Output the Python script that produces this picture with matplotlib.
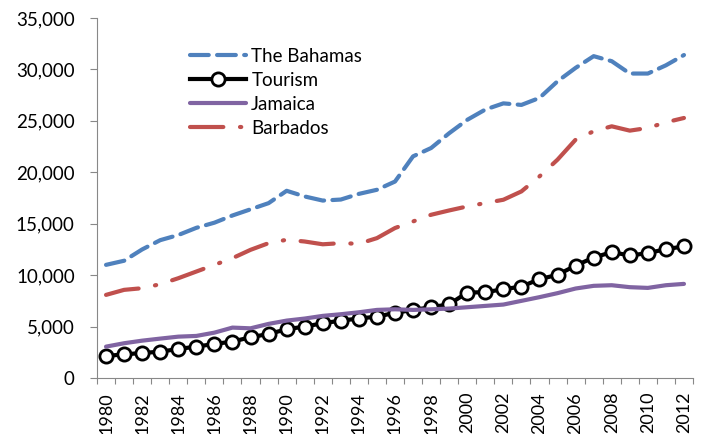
import numpy as np
import matplotlib
matplotlib.use("Agg")
from matplotlib import pyplot as plt

plt.rcParams['font.family'] = ['Lato', 'DejaVu Sans']

years = list(range(1980, 2013))

bahamas = [11000, 11400, 12500, 13400, 13900, 14600, 15100, 15800, 16400, 17000,
           18200, 17650, 17250, 17350, 17900, 18300, 19100, 21550, 22360, 23800,
           25100, 26100, 26700, 26550, 27230, 28850, 30150, 31290, 30800, 29600,
           29600, 30400, 31400]
tourism = [2140, 2300, 2430, 2560, 2820, 3050, 3310, 3540, 3960, 4280,
           4740, 5000, 5320, 5580, 5780, 5970, 6330, 6620, 6880, 7170,
           8310, 8340, 8630, 8890, 9610, 10030, 10930, 11710, 12240, 11910,
           12140, 12530, 12790]
jamaica = [3050, 3380, 3630, 3830, 4020, 4090, 4410, 4900, 4830, 5260,
           5580, 5780, 6040, 6200, 6390, 6620, 6680, 6620, 6680, 6750,
           6880, 7010, 7140, 7500, 7860, 8250, 8700, 8960, 9020, 8830,
           8760, 9020, 9150]
barbados = [8080, 8570, 8730, 9120, 9700, 10350, 11000, 11650, 12460, 13110,
            13440, 13270, 13000, 13110, 13050, 13600, 14580, 15220, 15870, 16290,
            16680, 17010, 17330, 18140, 19600, 21230, 23170, 23990, 24470, 24050,
            24310, 24860, 25280]

x = np.arange(len(years))

fig = plt.figure(figsize=(7.03, 4.34), dpi=100)
ax = fig.add_axes([97 / 703, 1 - 378 / 434, 596 / 703, 360 / 434])

ax.plot(x, bahamas, color='#4F81BD', lw=3, dashes=(4.5, 2), solid_capstyle='round',
        dash_capstyle='round', label='The Bahamas')
ax.plot(x, tourism, color='black', lw=3, marker='o', markersize=9.5,
        markerfacecolor='white', markeredgecolor='black', markeredgewidth=2,
        label='Tourism')
ax.plot(x, jamaica, color='#8064A2', lw=3, solid_capstyle='round', label='Jamaica')
ax.plot(x, barbados, color='#C0504D', lw=3, dashes=(8, 4, 0.3, 4), dash_capstyle='round',
        label='Barbados')

ax.set_xlim(-0.5, len(years) - 0.5)
ax.set_ylim(0, 35000)
ax.set_yticks(range(0, 35001, 5000))
ax.set_yticklabels([f'{v:,}' for v in range(0, 35001, 5000)], fontsize=13.5)

ax.set_xticks(np.arange(-0.5, len(years), 1))
ax.set_xticklabels([])
ax.set_xticks(x[::2], minor=True)
ax.set_xticklabels([str(y) for y in years[::2]], minor=True, rotation=90, fontsize=13)
ax.tick_params(axis='x', which='minor', length=0, pad=10)
ax.tick_params(axis='x', which='major', length=4.5, color='#888888', direction='out')
ax.tick_params(axis='y', length=5, color='#888888', direction='out', pad=11)

for s in ['top', 'right']:
    ax.spines[s].set_visible(False)
for s in ['left', 'bottom']:
    ax.spines[s].set_color('#888888')

ax.legend(loc='upper left', bbox_to_anchor=(0.156, 0.918), frameon=False, fontsize=13.5,
          handlelength=3.0, handletextpad=0.27, labelspacing=0.38, borderaxespad=0,
          borderpad=0)

fig.savefig('out.png', dpi=100)
